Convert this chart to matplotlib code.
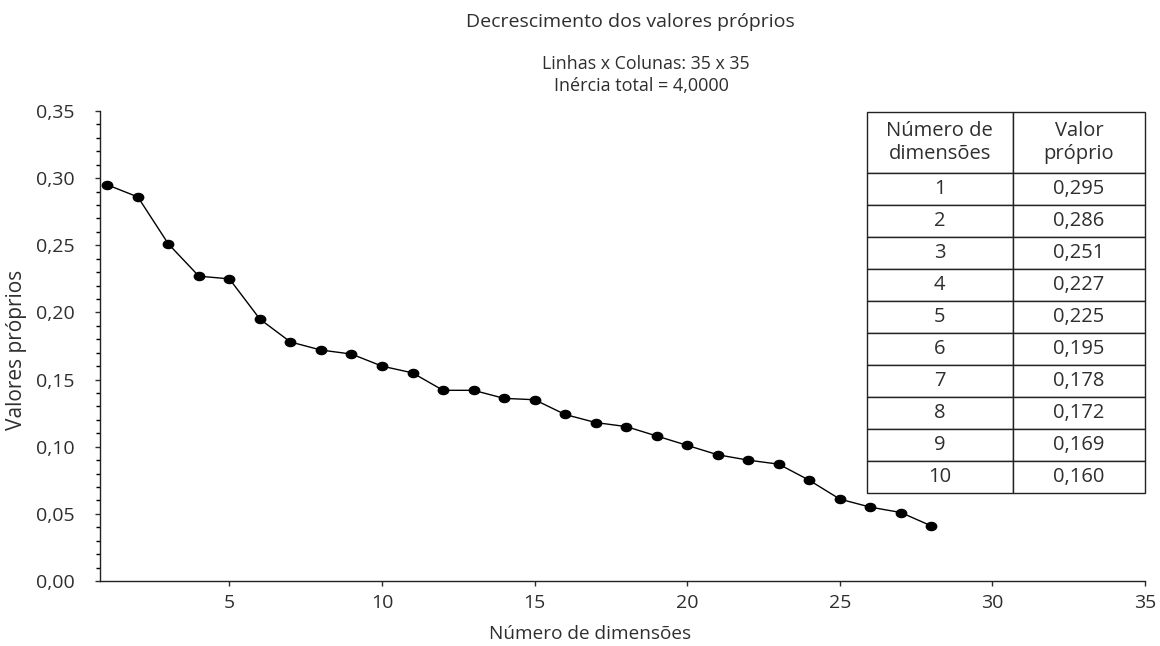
import numpy as np
import matplotlib
matplotlib.use("Agg")
import matplotlib.pyplot as plt
from matplotlib.path import Path
from matplotlib.transforms import Affine2D

plt.rcParams['font.family'] = ['Open Sans', 'DejaVu Sans']

# dados
dimensoes = list(range(1, 29))
valores = [0.295, 0.286, 0.251, 0.227, 0.225, 0.195, 0.178, 0.172, 0.169, 0.160,
           0.155, 0.142, 0.142, 0.136, 0.135, 0.124, 0.118, 0.115, 0.108, 0.101,
           0.094, 0.090, 0.087, 0.075, 0.061, 0.055, 0.051, 0.041]

xticks = [5, 10, 15, 20, 25, 30, 35]
yticks = [0.00, 0.05, 0.10, 0.15, 0.20, 0.25, 0.30, 0.35]
ytick_labels = ['0,00', '0,05', '0,10', '0,15', '0,20', '0,25', '0,30', '0,35']

n_tabela = 10
cab_tabela = ['Número de\ndimensões', 'Valor\npróprio']

titulo = 'Decrescimento dos valores próprios'
sub1 = 'Linhas x Colunas: 35 x 35'
sub2 = 'Inércia total = 4,0000'

cor_txt = '#2e2e2e'

W, H = 1160, 646
fig = plt.figure(figsize=(W / 100, H / 100), dpi=100)
ax = fig.add_axes([100 / W, 1 - 581 / H, 1045 / W, 470 / H])

# marcador eliptico
elipse = Path.unit_circle().transformed(Affine2D().scale(1.0, 0.78))

ax.plot(dimensoes, valores, color='black', linewidth=1.0,
        marker=elipse, markersize=7.5, markerfacecolor='black',
        markeredgecolor='black')

ax.set_xlim(0.76, 35)
ax.set_ylim(0, 0.35)
ax.set_xticks(xticks)
ax.set_xticklabels([str(v) for v in xticks])
ax.set_yticks(yticks)
ax.set_yticklabels(ytick_labels)
ax.set_yticks(np.arange(0, 0.351, 0.01), minor=True)
ax.tick_params(axis='both', which='major', direction='out', length=3.5,
               width=1.0, labelsize=14, colors=cor_txt)
ax.tick_params(axis='x', which='major', pad=6)
ax.tick_params(axis='y', which='major', pad=15)
ax.tick_params(axis='y', which='minor', direction='out', length=3, width=1.0)
for s in ['top', 'right']:
    ax.spines[s].set_visible(False)
for s in ['left', 'bottom']:
    ax.spines[s].set_linewidth(1.0)
    ax.spines[s].set_color('#222222')

# tabela
linhas = [[str(d), f'{v:.3f}'.replace('.', ',')]
          for d, v in zip(dimensoes[:n_tabela], valores[:n_tabela])]
x0 = (866.7 - 100) / 1045
y1 = (581 - 112.3) / 470
y0 = (581 - 493) / 470
tab = ax.table(cellText=linhas, colLabels=cab_tabela, cellLoc='center',
               bbox=[x0, y0, 1.0 - x0, y1 - y0])
tab.auto_set_font_size(False)
tab.set_fontsize(14.5)
for (r, c), cell in tab.get_celld().items():
    cell.set_edgecolor('#222222')
    cell.set_linewidth(1.0)
    cell.get_text().set_color(cor_txt)
    cell.set_height(61 if r == 0 else 32)
    cell.set_width(146 if c == 0 else 132)

# textos
fig.text(630 / W, 1 - 22 / H, titulo, ha='center', va='center',
         fontsize=14, color=cor_txt)
fig.text(646 / W, 1 - 64 / H, sub1, ha='center', va='center',
         fontsize=12.8, color=cor_txt)
fig.text(641 / W, 1 - 86 / H, sub2, ha='center', va='center',
         fontsize=13, color=cor_txt)
fig.text(590 / W, 1 - 634 / H, 'Número de dimensões', ha='center',
         va='center', fontsize=13.7, color=cor_txt)
fig.text(17 / W, 1 - 350 / H, 'Valores próprios', ha='center', va='center',
         rotation=90, fontsize=15, color=cor_txt)

fig.savefig('out.png', dpi=100)
